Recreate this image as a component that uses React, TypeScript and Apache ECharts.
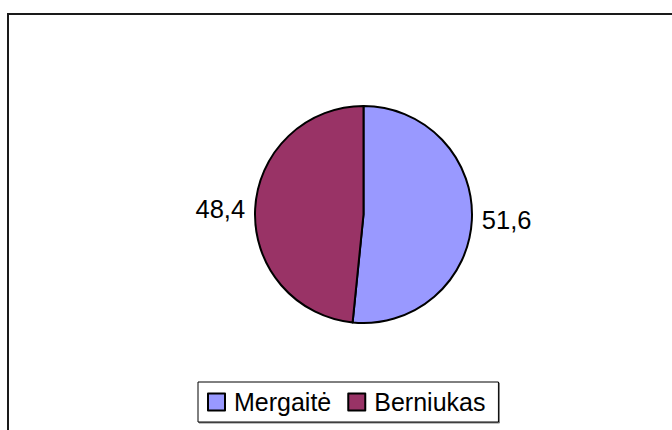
import React, { useEffect, useRef } from "react";
import * as echarts from "echarts";

const categories = ["Mergaitė", "Berniukas"];
const values = [51.6, 48.4];
const colors = ["#9999FF", "#993366"];

export default function App() {
  const ref = useRef<HTMLDivElement>(null);
  useEffect(() => {
    if (!ref.current) return;
    const chart = echarts.init(ref.current, null, { renderer: "svg" });
    const font = "'Liberation Sans', Arial, sans-serif";
    chart.setOption({
      animation: false,
      backgroundColor: "#ffffff",
      color: colors,
      graphic: [
        {
          type: "rect",
          shape: { x: 8, y: 14, width: 700, height: 500 },
          style: { fill: "none", stroke: "#1a1a1a", lineWidth: 2 },
          silent: true,
        },
      ],
      legend: {
        left: 198,
        top: 382,
        orient: "horizontal",
        icon: "rect",
        itemWidth: 17,
        itemHeight: 17,
        itemGap: 16,
        padding: [7, 13, 7, 9],
        borderColor: "#000",
        borderWidth: 1,
        shadowColor: "rgba(0,0,0,0.5)",
        shadowOffsetX: 1,
        shadowOffsetY: 1,
        backgroundColor: "#fff",
        itemStyle: { borderColor: "#000", borderWidth: 2 },
        textStyle: {
          fontFamily: font,
          fontSize: 25,
          color: "#000",
          lineHeight: 26,
          padding: [0, 0, 0, 4],
        },
        data: categories,
      },
      series: [
        {
          type: "pie",
          center: [363.5, 214.5],
          radius: 108.5,
          startAngle: 90,
          clockwise: true,
          avoidLabelOverlap: false,
          itemStyle: { borderColor: "#000", borderWidth: 2 },
          label: {
            show: true,
            position: "outside",
            fontFamily: font,
            fontSize: 25.5,
            color: "#000",
            distanceToLabelLine: 5,
            formatter: (p: any) => String(p.value).replace(".", ","),
          },
          labelLine: { show: false, length: 3, length2: 2 },
          emphasis: { disabled: true },
          data: categories.map((name, i) => ({ name, value: values[i] })),
        },
      ],
    });
    return () => chart.dispose();
  }, []);
  return (
    <div
      ref={ref}
      style={{ position: "fixed", left: 0, top: 0, width: 672, height: 430 }}
    />
  );
}
